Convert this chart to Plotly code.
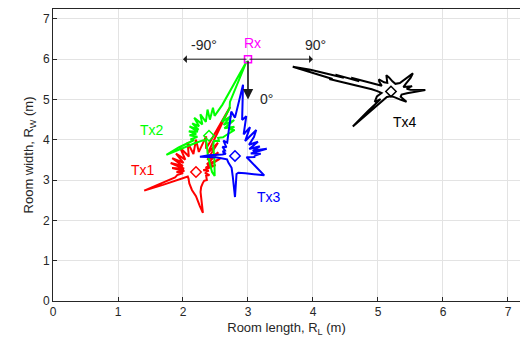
import numpy as np
import plotly.graph_objects as go

# ---- data ----
tx_names = ["Tx1", "Tx2", "Tx3", "Tx4"]
tx_x = [2.2, 2.4, 2.8, 5.2]
tx_y = [3.2, 4.1, 3.6, 5.2]
tx_colors = ["#ff0000", "#00ff00", "#0000ff", "#000000"]
label_x = [1.38, 1.52, 3.32, 5.42]
label_y = [3.25, 4.24, 2.58, 4.44]
rx_x, rx_y = 3.0, 6.0

# radiation patterns: angle (deg, CCW from +x) and radius (m)
tx1_angle = [0, 10, 20, 30, 36, 42, 48, 55, 60, 65, 69, 72, 75, 80, 85, 90, 95, 100, 106, 112,
             118, 124, 130, 137, 143, 150, 156, 165, 172, 180, 188, 195, 203, 208, 210, 212, 217,
             222, 235, 250, 262, 270, 274, 276, 278, 282, 290, 300, 310, 320, 330, 340, 350]
tx1_gain = [0.15, 0.2, 0.12, 0.35, 0.18, 0.5, 0.25, 0.6, 0.35, 0.8, 0.5, 1.7, 0.6, 0.9, 0.5, 0.8, 0.45, 0.75, 0.4, 0.65,
            0.35, 0.55, 0.3, 0.5, 0.25, 0.45, 0.2, 0.38, 0.18, 0.3, 0.2, 0.3, 0.35, 0.7, 0.92, 0.6, 0.25,
            0.17, 0.2, 0.3, 0.45, 0.6, 0.85, 1.02, 0.5, 0.38, 0.3, 0.25, 0.26, 0.2, 0.18, 0.22, 0.15]

tx2_angle = [0, 10, 20, 25, 30, 38, 45, 50, 55, 60, 65, 69, 72.6, 75, 80, 85, 88, 92, 98, 104,
             110, 117, 123, 130, 137, 142, 150, 160, 168, 178, 188, 198, 205, 212, 216, 220, 230,
             245, 260, 268, 273, 275, 278, 285, 300, 320, 340, 350]
tx2_gain = [0.25, 0.3, 0.42, 0.36, 0.45, 0.3, 0.55, 0.35, 0.6, 0.4, 0.75, 0.9, 1.94, 0.8, 0.5, 0.7, 0.4, 0.65, 0.35, 0.55,
            0.3, 0.5, 0.28, 0.4, 0.22, 0.38, 0.2, 0.33, 0.2, 0.3, 0.18, 0.3, 0.25, 0.55, 0.81, 0.3, 0.15,
            0.12, 0.2, 0.5, 0.9, 1.0, 0.6, 0.25, 0.15, 0.2, 0.15, 0.22]

tx3_angle = [0, 8, 14, 20, 25, 32, 38, 45, 52, 58, 63, 67, 72, 76, 80, 83, 86, 88, 90, 93, 96,
             100, 105, 110, 115, 122, 130, 140, 150, 160, 170, 178, 182, 186, 195, 215, 240, 260,
             266, 270, 273, 277, 290, 300, 308, 313, 320, 330, 340, 350, 355]
tx3_gain = [0.3, 0.4, 0.25, 0.52, 0.3, 0.45, 0.28, 0.5, 0.35, 0.55, 0.72, 0.4, 0.75, 0.55, 1.0, 0.9, 1.77, 1.2, 0.95, 1.1, 0.8,
            0.6, 0.45, 0.35, 0.42, 0.25, 0.3, 0.2, 0.22, 0.15, 0.2, 0.4, 0.54, 0.3, 0.22, 0.15, 0.2, 0.3,
            0.5, 1.02, 0.45, 0.42, 0.46, 0.52, 0.6, 0.66, 0.42, 0.3, 0.22, 0.18, 0.3]

tx4_angle = [0, 4, 8, 15, 22, 30, 40, 48, 53, 57, 70, 85, 95, 100, 105, 115, 122, 127, 135, 145,
             148, 151, 152.5, 154, 155, 156.5, 158, 159.5, 161, 162, 163.5, 166, 170, 180, 195,
             210, 220, 226, 230, 234, 236, 238, 245, 270, 290, 305, 313, 318, 335, 350]
tx4_gain = [0.4, 0.53, 0.3, 0.25, 0.35, 0.22, 0.3, 0.45, 0.56, 0.25, 0.2, 0.25, 0.35, 0.41, 0.22, 0.25, 0.35, 0.3, 0.2, 0.35,
            0.45, 0.7, 0.55, 0.95, 0.8, 1.35, 1.63, 1.2, 0.95, 1.0, 0.6, 0.45, 0.3, 0.2, 0.15,
            0.25, 0.3, 0.36, 0.25, 0.6, 1.05, 0.5, 0.15, 0.12, 0.15, 0.25, 0.35, 0.2, 0.18, 0.25]

x_ticks = [0, 1, 2, 3, 4, 5, 6, 7]
y_ticks = [0, 1, 2, 3, 4, 5, 6, 7]

patterns = [(tx1_angle, tx1_gain), (tx2_angle, tx2_gain), (tx3_angle, tx3_gain), (tx4_angle, tx4_gain)]

fig = go.Figure()
font_family = "Liberation Sans, Arial, sans-serif"

for i, (ang, gain) in enumerate(patterns):
    th = np.deg2rad(np.array(ang + [ang[0]], dtype=float))
    r = np.array(gain + [gain[0]], dtype=float)
    fig.add_trace(go.Scatter(
        x=tx_x[i] + r * np.cos(th), y=tx_y[i] + r * np.sin(th),
        mode="lines", line=dict(color=tx_colors[i], width=2), hoverinfo="skip"))
    fig.add_trace(go.Scatter(
        x=[tx_x[i]], y=[tx_y[i]], mode="markers",
        marker=dict(symbol="diamond-open", size=8, color=tx_colors[i], line=dict(width=1.5))))
    fig.add_annotation(x=label_x[i], y=label_y[i], text=tx_names[i], showarrow=False,
                       font=dict(family=font_family, size=14, color=tx_colors[i]))

# Rx marker
fig.add_trace(go.Scatter(x=[rx_x], y=[rx_y], mode="markers",
                         marker=dict(symbol="square-open", size=7, color="#ff00ff", line=dict(width=1.5))))

# direction arrows
arrow_defs = [(rx_x - 1, rx_y, 1, 1), (rx_x + 1, rx_y, 1, 1), (rx_x, rx_y - 1, 1.6, 2)]
for ex, ey, w, head in arrow_defs:
    fig.add_annotation(x=ex, y=ey, ax=rx_x, ay=rx_y, xref="x", yref="y", axref="x", ayref="y",
                       showarrow=True, arrowhead=head, arrowsize=1.3, arrowwidth=w,
                       arrowcolor="#1a1a1a", text="")

text_items = [(2.33, 6.35, "-90°", "#262626"), (4.04, 6.35, "90°", "#262626"),
              (3.07, 6.4, "Rx", "#ff00ff"), (3.29, 5.01, "0°", "#262626")]
for tx_, ty_, tt, cc in text_items:
    fig.add_annotation(x=tx_, y=ty_, text=tt, showarrow=False,
                       font=dict(family=font_family, size=14, color=cc))

axis_common = dict(showgrid=True, gridcolor="#e3e3e3", gridwidth=1, zeroline=False,
                   showline=True, linecolor="#262626", linewidth=1,
                   ticks="inside", ticklen=4, tickcolor="#262626", automargin=False,
                   tickfont=dict(family=font_family, size=12, color="#262626"))

fig.update_layout(
    width=520, height=347,
    margin=dict(l=53, r=0, t=9, b=46),
    paper_bgcolor="white", plot_bgcolor="white",
    showlegend=False,
    xaxis=dict(range=[0, 7.185], tickvals=x_ticks, mirror=True,
               title=dict(text="Room length, R<sub>L</sub> (m)", standoff=4,
                          font=dict(family=font_family, size=13, color="#262626")),
               **axis_common),
    yaxis=dict(range=[0, 7.245], tickvals=y_ticks, mirror=False,
               title=dict(text="Room width, R<sub>W</sub> (m)", standoff=6,
                          font=dict(family=font_family, size=13, color="#262626")),
               **axis_common),
)

fig.write_html("out.html", config={"displayModeBar": False},
               post_script="document.body.style.margin='0';document.body.style.overflow='hidden';")
